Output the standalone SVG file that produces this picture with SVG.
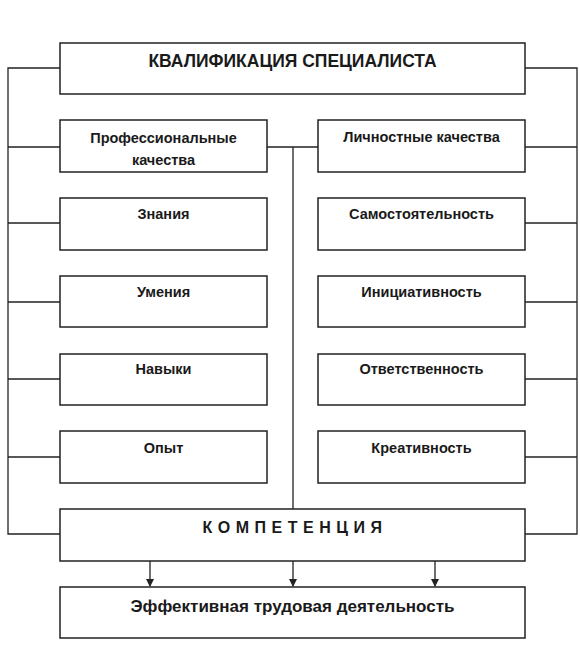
<svg xmlns="http://www.w3.org/2000/svg" width="580" height="664" viewBox="0 0 580 664">
<style>
.box{fill:#fff;stroke:#222;stroke-width:1.5}
.ln{fill:none;stroke:#222;stroke-width:1.3}
text{font-family:"Liberation Sans",Arial,sans-serif;font-weight:bold;fill:#1a1a1a;text-anchor:middle;font-size:14.5px}
.t{font-size:17.5px}
.c{font-size:16px;letter-spacing:5.5px}
.e{font-size:17px}
</style>
<defs>
<marker id="ah" markerWidth="8" markerHeight="8" refX="7" refY="4" orient="auto" markerUnits="userSpaceOnUse">
<path d="M0,0 L8,4 L0,8 Z" fill="#222"/>
</marker>
</defs>
<rect width="580" height="664" fill="#fff"/>
<g id="connectors">
<path class="ln" d="M60,68 H8 V534 H60"/>
<path class="ln" d="M525,68 H577 V534 H525"/>
<path class="ln" d="M8,147 H60 M8,223 H60 M8,302 H60 M8,379 H60 M8,457 H60"/>
<path class="ln" d="M577,147 H525 M577,223 H525 M577,302 H525 M577,379 H525 M577,457 H525"/>
<path class="ln" d="M267,147 H318 M293,147 V509"/>
<path class="ln" d="M150,561 V586" marker-end="url(#ah)"/>
<path class="ln" d="M293,561 V586" marker-end="url(#ah)"/>
<path class="ln" d="M435,561 V586" marker-end="url(#ah)"/>
</g>
<g id="qual"><rect class="box" x="60" y="43" width="465" height="51"/><text class="t" x="292.5" y="67">КВАЛИФИКАЦИЯ СПЕЦИАЛИСТА</text></g>
<g id="prof"><rect class="box" x="60" y="120" width="207" height="52"/><text x="163.5" y="143">Профессиональные</text><text x="163.5" y="165">качества</text></g>
<g id="pers"><rect class="box" x="318" y="120" width="207" height="52"/><text x="421.5" y="142">Личностные качества</text></g>
<g id="znaniya"><rect class="box" x="60" y="198" width="207" height="52"/><text x="163.5" y="219">Знания</text></g>
<g id="umeniya"><rect class="box" x="60" y="276" width="207" height="51"/><text x="163.5" y="297">Умения</text></g>
<g id="navyki"><rect class="box" x="60" y="354" width="207" height="51"/><text x="163.5" y="374">Навыки</text></g>
<g id="opyt"><rect class="box" x="60" y="431" width="207" height="52"/><text x="163.5" y="453">Опыт</text></g>
<g id="samost"><rect class="box" x="318" y="198" width="207" height="52"/><text x="421.5" y="219">Самостоятельность</text></g>
<g id="inic"><rect class="box" x="318" y="276" width="207" height="51"/><text x="421.5" y="297">Инициативность</text></g>
<g id="otvet"><rect class="box" x="318" y="354" width="207" height="51"/><text x="421.5" y="374">Ответственность</text></g>
<g id="kreat"><rect class="box" x="318" y="431" width="207" height="52"/><text x="421.5" y="453">Креативность</text></g>
<g id="komp"><rect class="box" x="60" y="509" width="465" height="52"/><text class="c" x="295" y="533">КОМПЕТЕНЦИЯ</text></g>
<g id="eff"><rect class="box" x="60" y="587" width="465" height="51"/><text class="e" x="292.5" y="612">Эффективная трудовая деятельность</text></g>
</svg>
